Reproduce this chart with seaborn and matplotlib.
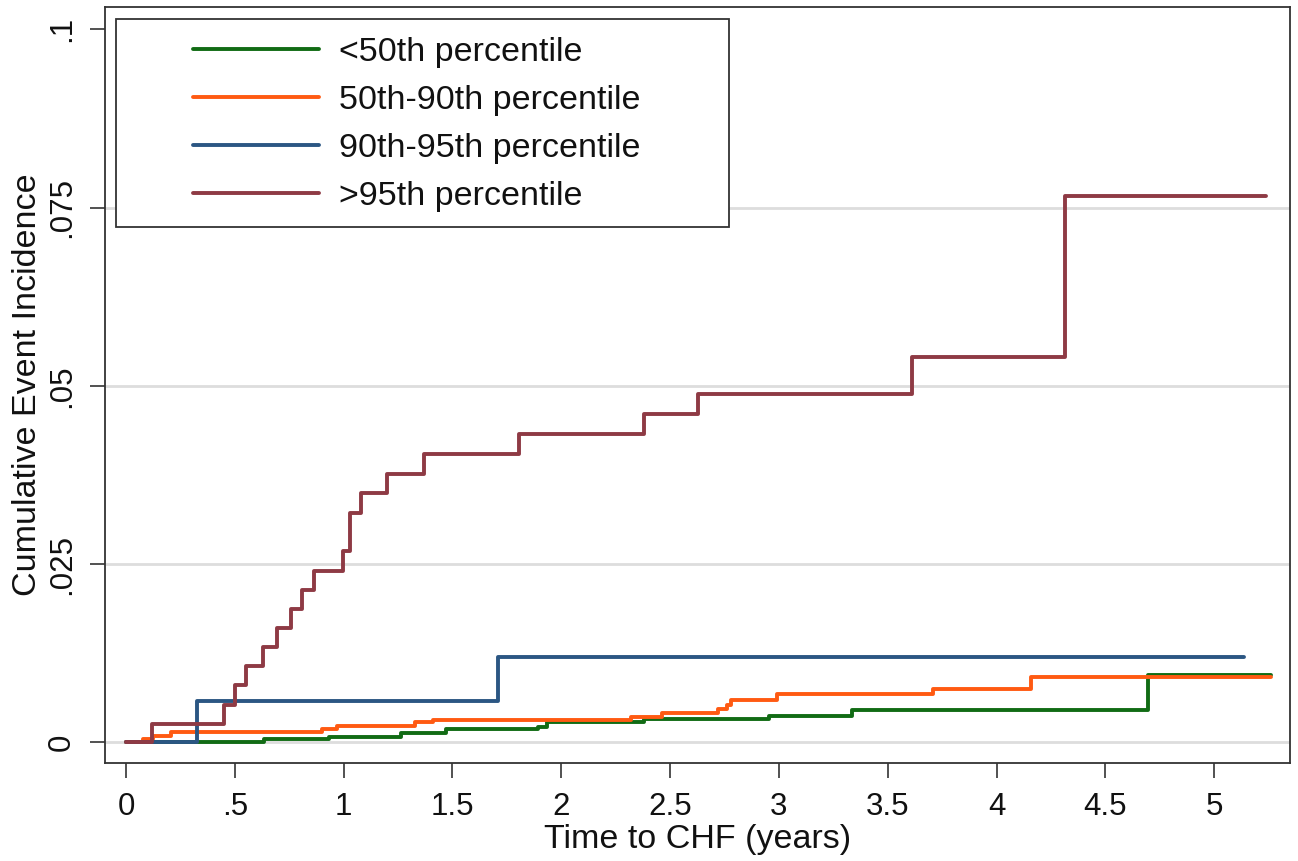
import matplotlib
matplotlib.use("Agg")
import matplotlib.pyplot as plt
import seaborn as sns
import pandas as pd
import numpy as np
from matplotlib.patches import Rectangle

# ---- data ----
groups = ["<50th percentile", "50th-90th percentile", "90th-95th percentile", ">95th percentile"]
colors = ["#116b14", "#ff5a12", "#2b5683", "#8e3a44"]

t_lt50 = [0, 0.634, 0.934, 1.263, 1.471, 1.893, 1.932, 2.381, 2.956, 3.337, 4.694, 5.26]
y_lt50 = [0, 0.0004, 0.0008, 0.0013, 0.0018, 0.0022, 0.0028, 0.0033, 0.0037, 0.0045, 0.0095, 0.0095]

t_50_90 = [0, 0.08, 0.126, 0.207, 0.90, 0.969, 1.33, 1.41, 2.32, 2.464, 2.72, 2.76, 2.78, 2.99, 3.71, 4.16, 5.26]
y_50_90 = [0, 0.0004, 0.0009, 0.0014, 0.0018, 0.0023, 0.0028, 0.0032, 0.0036, 0.0041, 0.0047, 0.0052, 0.0060, 0.0068, 0.0075, 0.0091, 0.0091]

t_90_95 = [0, 0.325, 1.709, 5.136]
y_90_95 = [0, 0.0058, 0.0120, 0.0120]

t_gt95 = [0, 0.118, 0.448, 0.502, 0.552, 0.629, 0.693, 0.759, 0.810, 0.865, 0.996, 1.031, 1.080,
          1.200, 1.368, 1.807, 2.381, 2.626, 3.612, 4.312, 5.24]
y_gt95 = [0, 0.0026, 0.0053, 0.0080, 0.0107, 0.0134, 0.0160, 0.0187, 0.0214, 0.0240, 0.0268, 0.0322, 0.0349,
          0.0376, 0.0405, 0.0433, 0.0461, 0.0489, 0.0540, 0.0766, 0.0766]

x_ticks = [0, 0.5, 1, 1.5, 2, 2.5, 3, 3.5, 4, 4.5, 5]
x_ticklabels = ["0", ".5", "1", "1.5", "2", "2.5", "3", "3.5", "4", "4.5", "5"]
y_ticks = [0, 0.025, 0.05, 0.075, 0.1]
y_ticklabels = ["0", ".025", ".05", ".075", ".1"]

# ---- build long table ----
series = [(t_lt50, y_lt50), (t_50_90, y_50_90), (t_90_95, y_90_95), (t_gt95, y_gt95)]
frames = []
for g, (t, y) in zip(groups, series):
    frames.append(pd.DataFrame({"time": t, "inc": y, "group": g}))
df = pd.concat(frames, ignore_index=True)

sns.set_theme(style="white")
plt.rcParams["font.family"] = ["Liberation Sans", "DejaVu Sans"]

fig = plt.figure(figsize=(12.98, 8.61), dpi=100)
ax = fig.add_axes([105 / 1298, 1 - 763 / 861, 1185 / 1298, 755.7 / 861])

LW = 2.8
sns.lineplot(data=df, x="time", y="inc", hue="group", hue_order=groups,
             palette=colors, estimator=None, drawstyle="steps-post",
             linewidth=LW, ax=ax, legend=True, zorder=3)

ax.set_xlim(-0.0965, 5.348)
ax.set_ylim(-0.0029, 0.10309)

ax.set_xticks(x_ticks)
ax.set_xticklabels(x_ticklabels)
ax.set_yticks(y_ticks)
ax.set_yticklabels(y_ticklabels, rotation=90, va="center")

ax.tick_params(axis="both", which="major", direction="out", length=11, width=1.2,
               color="#333333", labelsize=22.5, labelcolor="#111111", bottom=True, left=True)
ax.tick_params(axis="x", pad=10)
ax.tick_params(axis="y", pad=9)

ax.yaxis.grid(True, color="#dddddd", linewidth=2)
ax.xaxis.grid(False)
ax.set_axisbelow(True)
gl = ax.yaxis.get_gridlines()
gl[-1].set_visible(False)

for s in ax.spines.values():
    s.set_visible(True)
    s.set_color("#333333")
    s.set_linewidth(1.3)

ax.set_xlabel("Time to CHF (years)", fontsize=24.5, color="#111111", labelpad=1)
ax.set_ylabel("Cumulative Event Incidence", fontsize=24.5, color="#111111", labelpad=3)

# legend frame
ax.add_patch(Rectangle((0.0095, 0.7097), 0.5175, 0.2743, transform=ax.transAxes,
                       facecolor="white", edgecolor="#333333", linewidth=1.3, zorder=4))
handles, labels = ax.get_legend_handles_labels()
for h in handles:
    h.set_linewidth(LW)
leg = ax.legend(handles, labels, loc="upper left",
                bbox_to_anchor=((193 - 105) / 1185, 1 - (37 - 7.3) / 755.7),
                frameon=False, borderpad=0, borderaxespad=0, fontsize=24.5,
                handlelength=3.7, handletextpad=0.6, labelspacing=0.5)
leg.set_zorder(5)
for txt in leg.get_texts():
    txt.set_color("#111111")

fig.savefig("out.png", dpi=100)
